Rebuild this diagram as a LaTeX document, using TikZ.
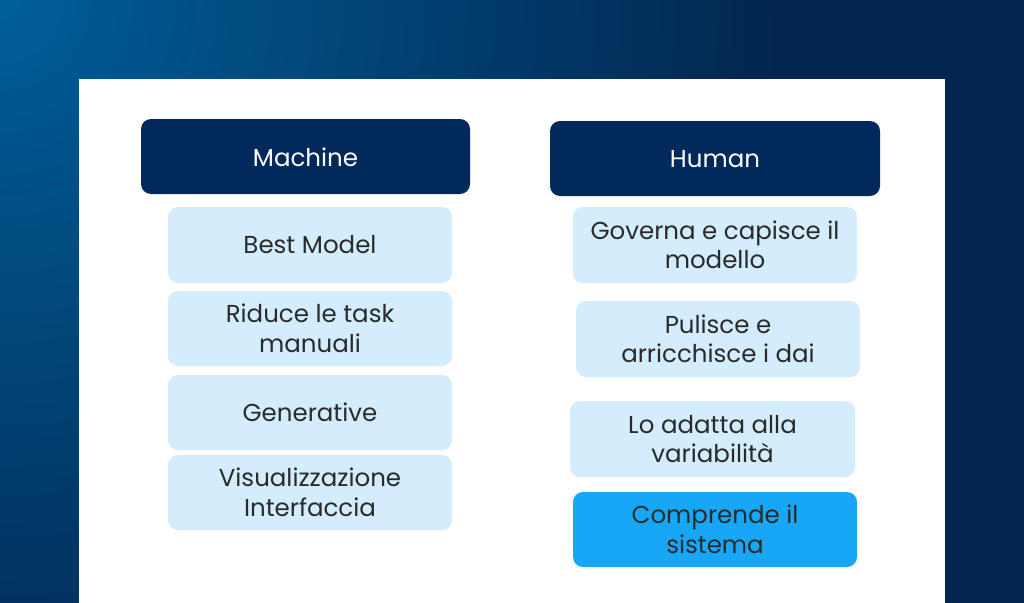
\documentclass[tikz,border=0pt]{standalone}
\usepackage{fontspec}
\setmainfont{Poppins}
\definecolor{navy}{HTML}{01295A}
\definecolor{bgL}{HTML}{005E99}
\definecolor{bgR}{HTML}{02264F}
\definecolor{lightb}{HTML}{D3EDFC}
\definecolor{brightb}{HTML}{17A7F6}
\definecolor{txt}{HTML}{2A2A2A}
\tikzset{
  hdr/.style={fill=navy, rounded corners=10pt},
  hdrtxt/.style={text=white, font=\fontsize{24.5}{29}\selectfont},
  itm/.style={fill=lightb, rounded corners=10pt},
  itmtxt/.style={text=txt, align=center, font=\fontsize{24.5}{29.5}\selectfont},
  hot/.style={fill=brightb, rounded corners=10pt},
}
\begin{document}
\begin{tikzpicture}[x=1pt,y=-1pt]
\useasboundingbox (0,0) rectangle (1024,602);
\begin{scope}
\clip (0,0) rectangle (1024,602);
\fill[bgR] (-5,-5) rectangle (1030,610);
\shade[inner color=bgL, outer color=bgR] (0,0) circle (780);
\fill[white] (79,79) rectangle (945,615);
\end{scope}
% headers
\fill[hdr] (141,119) rectangle (470,194);
\node[hdrtxt] (machine) at (305.5,157) {Machine};
\fill[hdr] (550,121) rectangle (880,196);
\node[hdrtxt] (human) at (715,159) {Human};
% left items
\fill[itm] (168,207) rectangle (452,283);
\node[itmtxt] (l1) at (310,245) {Best Model};
\fill[itm] (168,291) rectangle (452,366);
\node[itmtxt] (l2) at (310,328.5) {Riduce le task\\manuali};
\fill[itm] (168,375) rectangle (452,450);
\node[itmtxt] (l3) at (310,412.5) {Generative};
\fill[itm] (168,455) rectangle (452,530);
\node[itmtxt] (l4) at (310,492.5) {Visualizzazione\\Interfaccia};
% right items
\fill[itm] (573,207) rectangle (857,283);
\node[itmtxt] (r1) at (715,245) {Governa e capisce il\\modello};
\fill[itm] (576,301) rectangle (860,377);
\node[itmtxt] (r2) at (718,339) {Pulisce e\\arricchisce i dai};
\fill[itm] (570,401) rectangle (855,477);
\node[itmtxt] (r3) at (712.5,439) {Lo adatta alla\\variabilità};
\fill[hot] (573,492) rectangle (857,567);
\node[itmtxt] (r4) at (715,529.5) {Comprende il\\sistema};
\end{tikzpicture}
\end{document}
